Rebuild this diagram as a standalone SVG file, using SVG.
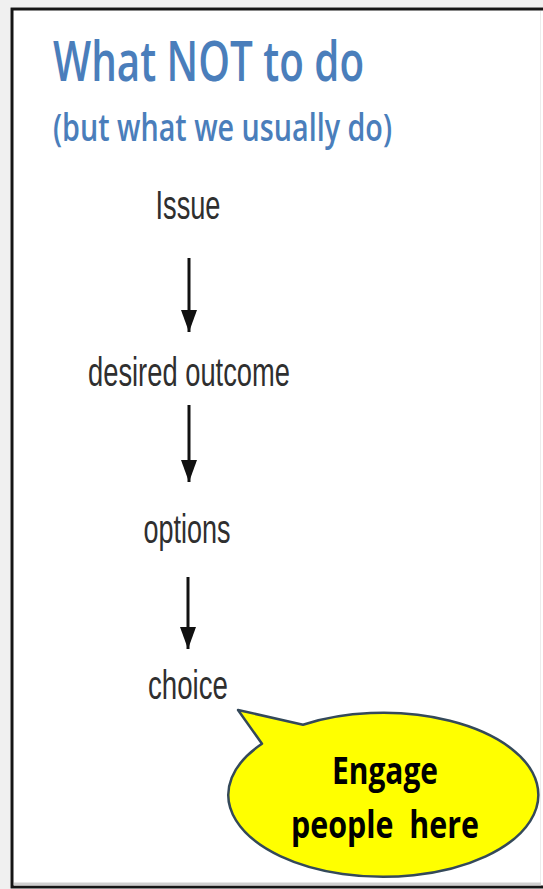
<svg xmlns="http://www.w3.org/2000/svg" width="543" height="889" viewBox="0 0 543 889">
  <style>
    .step { font-family: "Liberation Sans", Arial, sans-serif; font-size: 40px; fill: #2f2f2f; text-anchor: middle; }
    .title { font-family: "Open Sans", "Noto Sans", sans-serif; font-weight: 600; fill: #4a7ebb; }
    .bubble-text { font-family: "Open Sans", "Noto Sans", sans-serif; font-weight: 700; font-size: 37px; fill: #000; text-anchor: middle; white-space: pre; }
    .conn { stroke: #111; stroke-width: 3; fill: none; }
  </style>
  <defs>
    <marker id="head" markerUnits="userSpaceOnUse" markerWidth="22" markerHeight="16" refX="22" refY="8" viewBox="0 0 22 16" orient="auto">
      <path d="M0,0 L22,8 L0,16 Z" fill="#111"/>
    </marker>
  </defs>

  <rect x="0" y="0" width="543" height="889" fill="#ffffff"/>
  <rect x="0" y="0" width="10" height="889" fill="#f0f0f0"/>
  <rect x="0" y="0" width="543" height="7" fill="#f0f0f0"/>
  <rect x="12" y="9" width="540" height="878" fill="#ffffff" stroke="#151515" stroke-width="3"/>
  <line x1="540.5" y1="11" x2="540.5" y2="885" stroke="#ececec" stroke-width="1"/>
  <line x1="14" y1="884" x2="541" y2="884" stroke="#cfcfcf" stroke-width="3"/>

  <g id="title">
    <text class="title" x="53" y="81" font-size="56" textLength="311" lengthAdjust="spacingAndGlyphs">What NOT to do</text>
    <text class="title" x="53" y="141" font-size="37" textLength="339" lengthAdjust="spacingAndGlyphs">(but what we usually do)</text>
  </g>

  <g id="issue"><text class="step" x="188" y="219" textLength="65" lengthAdjust="spacingAndGlyphs">Issue</text></g>
  <g id="desired-outcome"><text class="step" x="189" y="386" textLength="202" lengthAdjust="spacingAndGlyphs">desired outcome</text></g>
  <g id="options"><text class="step" x="187" y="543" textLength="87" lengthAdjust="spacingAndGlyphs">options</text></g>
  <g id="choice"><text class="step" x="188" y="699" textLength="80" lengthAdjust="spacingAndGlyphs">choice</text></g>

  <g id="connectors">
    <line class="conn" x1="189" y1="258" x2="189" y2="332" marker-end="url(#head)"/>
    <line class="conn" x1="189" y1="405" x2="189" y2="482" marker-end="url(#head)"/>
    <line class="conn" x1="188" y1="577" x2="188" y2="649" marker-end="url(#head)"/>
  </g>

  <g id="callout">
    <path d="M303,724.7 L238,710 L262,743.8 A155,82 0 1,0 303,724.7 Z" fill="#ffff00" stroke="#34495a" stroke-width="2.5" stroke-linejoin="round"/>
    <text class="bubble-text" x="385" y="784" textLength="106" lengthAdjust="spacingAndGlyphs">Engage</text>
    <text class="bubble-text" x="385" y="838" textLength="188" lengthAdjust="spacingAndGlyphs">people  here</text>
  </g>
</svg>
